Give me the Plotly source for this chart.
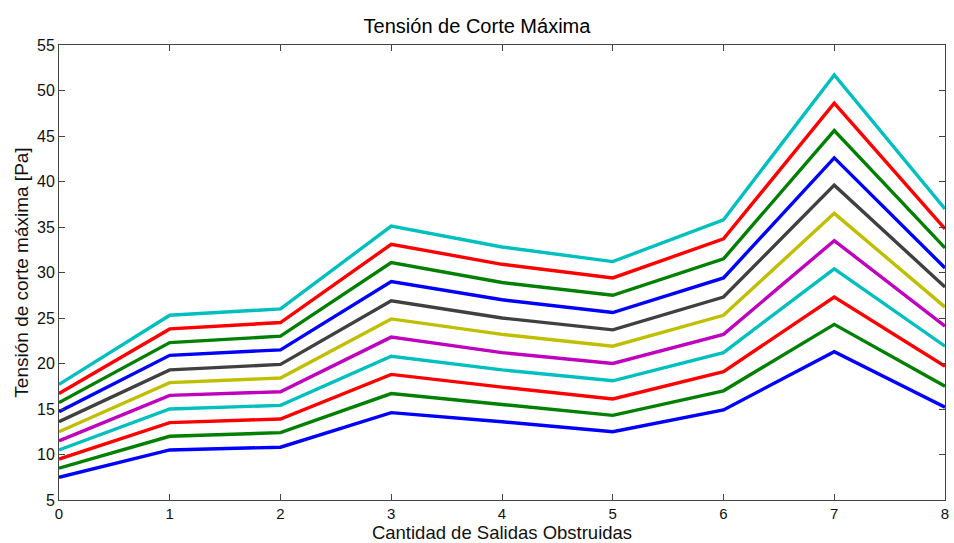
import plotly.graph_objects as go

x_vals = [0, 1, 2, 3, 4, 5, 6, 7, 8]

series = [
    [7.5, 10.5, 10.8, 14.6, 13.6, 12.5, 14.9, 21.3, 15.2],
    [8.5, 12.0, 12.4, 16.7, 15.5, 14.3, 17.0, 24.3, 17.5],
    [9.5, 13.5, 13.9, 18.8, 17.4, 16.1, 19.1, 27.3, 19.7],
    [10.5, 15.0, 15.4, 20.8, 19.3, 18.1, 21.2, 30.4, 21.9],
    [11.5, 16.5, 16.9, 22.9, 21.2, 20.0, 23.2, 33.5, 24.1],
    [12.5, 17.9, 18.4, 24.9, 23.2, 21.9, 25.3, 36.5, 26.2],
    [13.6, 19.3, 19.9, 26.9, 25.0, 23.7, 27.3, 39.6, 28.4],
    [14.7, 20.9, 21.5, 29.0, 27.0, 25.6, 29.4, 42.6, 30.5],
    [15.7, 22.3, 23.0, 31.1, 28.9, 27.5, 31.5, 45.6, 32.7],
    [16.7, 23.8, 24.5, 33.1, 30.9, 29.4, 33.7, 48.6, 34.8],
    [17.7, 25.3, 26.0, 35.1, 32.8, 31.2, 35.8, 51.7, 37.0],
]

colors = ["#0000FF", "#008000", "#FF0000", "#00BFBF", "#BF00BF", "#BFBF00",
          "#404040", "#0000FF", "#008000", "#FF0000", "#00BFBF"]

y_ticks = [5, 10, 15, 20, 25, 30, 35, 40, 45, 50, 55]
x_ticks = [0, 1, 2, 3, 4, 5, 6, 7, 8]

fig = go.Figure()
for ys, c in zip(series, colors):
    fig.add_trace(go.Scatter(x=x_vals, y=ys, mode="lines",
                             line=dict(color=c, width=3.4), showlegend=False))

font_family = "Liberation Sans, Arial, Helvetica, sans-serif"
fig.update_layout(
    width=954, height=543,
    margin=dict(l=59, r=5, t=45, b=42),
    paper_bgcolor="white", plot_bgcolor="white",
    font=dict(family=font_family, size=15, color="#111"),
    title=dict(text="Tensión de Corte Máxima", x=0.5, xanchor="center",
               y=0.953, yanchor="middle", font=dict(size=20, color="#000")),
    xaxis=dict(range=[0, 8], tickvals=x_ticks, ticks="inside", ticklen=6,
               tickcolor="#444", showline=True, linecolor="#444", linewidth=1,
               mirror="ticks", showgrid=False, zeroline=False,
               title=dict(text="Cantidad de Salidas Obstruidas", standoff=3,
                          font=dict(size=18.5)),
               tickfont=dict(size=15)),
    yaxis=dict(range=[5, 55], tickvals=y_ticks, ticks="inside", ticklen=6,
               tickcolor="#444", showline=True, linecolor="#444", linewidth=1,
               mirror="ticks", showgrid=False, zeroline=False,
               title=dict(text="Tensión de corte máxima [Pa]", standoff=3,
                          font=dict(size=19)),
               tickfont=dict(size=16)),
)

fig.write_html("out.html")
